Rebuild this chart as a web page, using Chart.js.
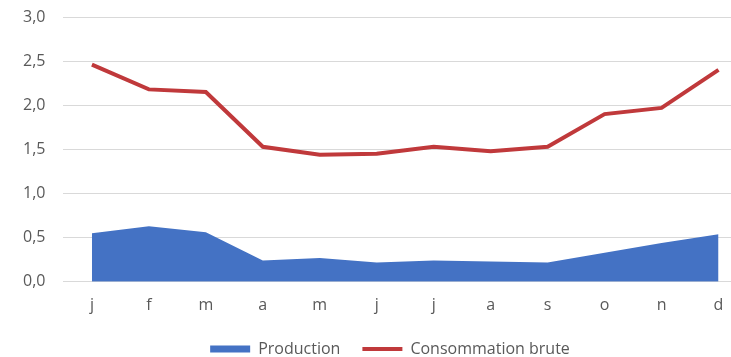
<!DOCTYPE html>
<html>
<head>
<meta charset="utf-8">
<script src="https://cdn.jsdelivr.net/npm/chart.js@4.4.0/dist/chart.umd.min.js"></script>
<style>
  html, body { margin: 0; padding: 0; background: #fff; }
  #wrap { width: 731px; height: 357px; overflow: hidden; position: relative; }
  canvas { display: block; }
</style>
</head>
<body>
<div id="wrap"><canvas id="c" width="780" height="357"></canvas></div>
<script>
const categories = ['j', 'f', 'm', 'a', 'm', 'j', 'j', 'a', 's', 'o', 'n', 'd'];
const production = [0.55, 0.63, 0.56, 0.24, 0.27, 0.22, 0.24, 0.23, 0.22, 0.33, 0.44, 0.54];
const consommation = [2.46, 2.18, 2.15, 1.53, 1.44, 1.45, 1.53, 1.48, 1.53, 1.90, 1.97, 2.40];
const seriesNames = ['Production', 'Consommation brute'];

const FONT = "'Open Sans', sans-serif";
const TXT = '#595959';

const legendShift = {
  id: 'legendShift',
  beforeLayout(chart) {
    const lg = chart.legend;
    if (lg && !lg._patched) {
      const f = lg.fit.bind(lg);
      lg.fit = function () { f(); this.height -= 16; };
      lg._patched = true;
    }
  },
  afterLayout(chart) {
    const lg = chart.legend;
    if (lg) {
      lg.left += 14; lg.right += 14;
      lg.top -= 4;
      lg.height += 16;
      lg.bottom = lg.top + lg.height;
    }
  }
};

new Chart(document.getElementById('c'), {
  type: 'line',
  data: {
    labels: categories,
    datasets: [
      {
        label: seriesNames[0],
        data: production,
        fill: 'origin',
        backgroundColor: '#4472C4',
        borderColor: '#4472C4',
        borderWidth: 0,
        pointRadius: 0,
        tension: 0
      },
      {
        label: seriesNames[1],
        data: consommation,
        fill: false,
        borderColor: '#C0393B',
        backgroundColor: '#C0393B',
        borderWidth: 4,
        pointRadius: 0,
        tension: 0
      }
    ]
  },
  options: {
    responsive: false,
    animation: false,
    layout: { padding: { top: 1, right: 33, left: 5, bottom: 2 } },
    plugins: {
      tooltip: { enabled: false },
      legend: {
        position: 'bottom',
        labels: {
          font: { family: FONT, size: 16 },
          color: TXT,
          usePointStyle: true,
          pointStyleWidth: 40,
          boxHeight: 7,
          padding: 22,
          generateLabels(chart) {
            const items = Chart.defaults.plugins.legend.labels.generateLabels(chart);
            items[0].pointStyle = 'rect';
            items[0].fillStyle = '#4472C4';
            items[0].lineWidth = 0;
            items[1].pointStyle = 'line';
            items[1].strokeStyle = '#C0393B';
            items[1].lineWidth = 4;
            return items;
          }
        }
      }
    },
    scales: {
      x: {
        offset: true,
        grid: { display: false },
        border: { display: false },
        ticks: { font: { family: FONT, size: 16 }, color: TXT, padding: 6 },
        afterFit(scale) { scale.height += 2; }
      },
      y: {
        min: 0,
        max: 3,
        ticks: {
          stepSize: 0.5,
          font: { family: FONT, size: 16 },
          color: TXT,
          padding: 18,
          callback: v => v.toFixed(1).replace('.', ',')
        },
        grid: { color: '#D9D9D9', lineWidth: 1, drawTicks: false },
        border: { display: false },
        afterFit(scale) { scale.paddingTop = 17; scale.paddingBottom = 10; }
      }
    }
  },
  plugins: [legendShift]
});
</script>
</body>
</html>
